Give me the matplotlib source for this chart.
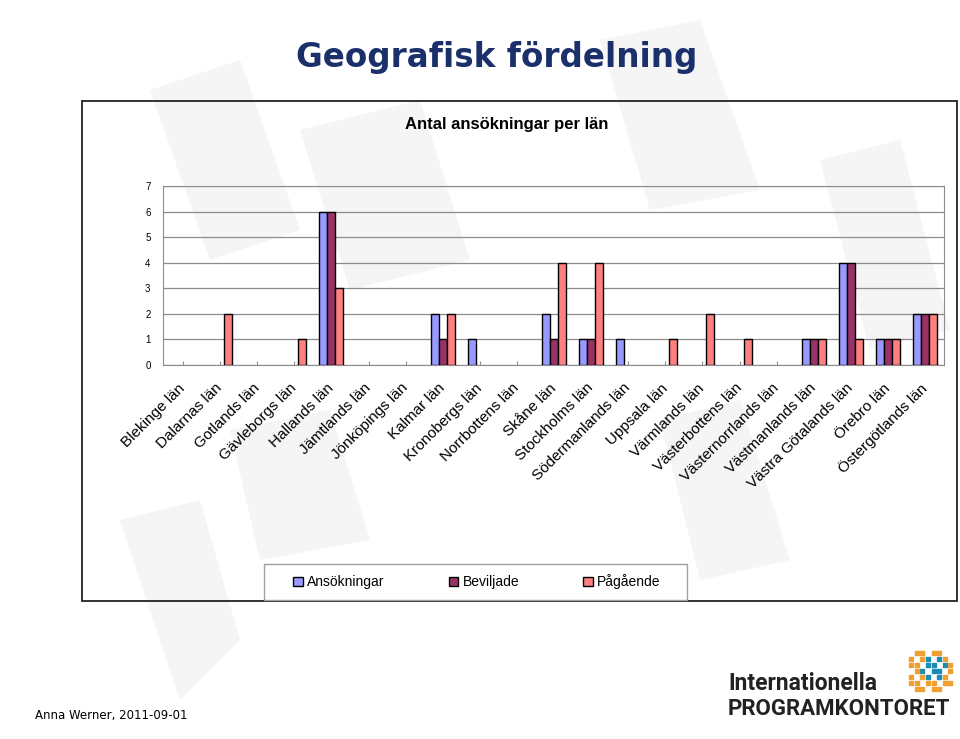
import numpy as np
import matplotlib
matplotlib.use("Agg")
import matplotlib.pyplot as plt
from matplotlib.patches import Rectangle, Polygon

# data
lan = ["Blekinge län", "Dalarnas län", "Gotlands län", "Gävleborgs län",
       "Hallands län", "Jämtlands län", "Jönköpings län", "Kalmar län",
       "Kronobergs län", "Norrbottens län", "Skåne län", "Stockholms län",
       "Södermanlands län", "Uppsala län", "Värmlands län",
       "Västerbottens län", "Västernorrlands län", "Västmanlands län",
       "Västra Götalands län", "Örebro län", "Östergötlands län"]
ansokningar = [0, 0, 0, 0, 6, 0, 0, 2, 1, 0, 2, 1, 1, 0, 0, 0, 0, 1, 4, 1, 2]
beviljade   = [0, 0, 0, 0, 6, 0, 0, 1, 0, 0, 1, 1, 0, 0, 0, 0, 0, 1, 4, 1, 2]
pagaende    = [0, 2, 0, 1, 3, 0, 0, 2, 0, 0, 4, 4, 0, 1, 2, 1, 0, 1, 1, 1, 2]
serier = ["Ansökningar", "Beviljade", "Pågående"]
farger = ["#9999FF", "#993366", "#FF8080"]

W, H = 960, 739
def fx(x):
    return x / W
def fy(y):
    return 1 - y / H

plt.rcParams["font.family"] = ["Liberation Sans", "DejaVu Sans"]

fig = plt.figure(figsize=(W / 100, H / 100), dpi=100)
fig.patch.set_facecolor("white")

# faint watermark shapes behind everything
wm = [[(150, 90), (240, 60), (300, 230), (210, 260)],
      [(300, 130), (420, 100), (470, 260), (350, 290)],
      [(600, 40), (700, 20), (760, 190), (650, 210)],
      [(820, 160), (900, 140), (950, 330), (870, 350)],
      [(230, 430), (330, 410), (370, 540), (260, 560)],
      [(660, 420), (740, 400), (790, 560), (700, 580)],
      [(120, 520), (200, 500), (240, 640), (180, 700)]]
for poly in wm:
    fig.patches.append(Polygon([(fx(a), fy(b)) for a, b in poly], closed=True,
                               transform=fig.transFigure, facecolor="#F5F5F5",
                               edgecolor="none", zorder=-10))

# chart frame
fig.patches.append(Rectangle((fx(82), fy(601)), (957 - 82) / W, (601 - 101) / H,
                             transform=fig.transFigure, fill=False,
                             edgecolor="#222222", lw=1.3, zorder=-5))

fig.text(fx(497), fy(57), "Geografisk fördelning", ha="center", va="center",
         fontsize=23.5, fontweight="bold", color="#1B2F6B", family="DejaVu Sans")
fig.text(fx(507), fy(125), "Antal ansökningar per län", ha="center", va="center",
         fontsize=12, fontweight="bold", color="black")

ax = fig.add_axes([fx(163), fy(365), (944 - 163) / W, (365 - 186) / H])
ax.set_facecolor("none")
x = np.arange(len(lan))
bw = 0.216
for i, (vals, c) in enumerate(zip([ansokningar, beviljade, pagaende], farger)):
    vals = np.array(vals)
    m = vals > 0
    ax.bar(x[m] + (i - 1) * bw, vals[m], width=bw, color=c, edgecolor="black",
           linewidth=1.0, label=serier[i], zorder=3)

ax.set_xlim(-0.54, 20.51)
ax.set_ylim(0, 7)
ax.set_yticks(range(8))
ax.tick_params(axis="y", length=0, labelsize=7, pad=9)
ax.yaxis.grid(True, color="#8C8C8C", lw=0.9, zorder=1)
for s in ax.spines.values():
    s.set_color("#8C8C8C")
ax.set_xticks(x)
ax.set_xticklabels(lan, rotation=45, ha="right", va="center",
                   rotation_mode="anchor", fontsize=11)
ax.tick_params(axis="x", direction="in", length=3, color="#8C8C8C", pad=15)

# legend box
fig.patches.append(Rectangle((fx(264), fy(600)), (687 - 264) / W, (600 - 564) / H,
                             transform=fig.transFigure, facecolor="white",
                             edgecolor="#A0A0A0", lw=1.0, zorder=-4))
fig.legend(loc="center", bbox_to_anchor=(fx(477), fy(582)), ncol=3,
           frameon=False, fontsize=10, handlelength=0.7, handleheight=0.7,
           handletextpad=0.3, columnspacing=4.6)

fig.text(fx(35), fy(716), "Anna Werner, 2011-09-01", ha="left", va="center",
         fontsize=8.5, family="DejaVu Sans", color="black")

# logo text
fig.text(fx(728), fy(684), "Internationella", ha="left", va="center",
         fontsize=16.5, fontweight="bold", family="Roboto", color="#222222")
fig.text(fx(728), fy(709), "PROGRAMKONTORET", ha="left", va="center",
         fontsize=16, fontweight="bold", family="Roboto", color="#222222")
# logo dots
lx = fig.add_axes([fx(900), fy(695), 56 / W, 48 / H])
lx.set_xlim(0, 10)
lx.set_ylim(0, 8)
lx.axis("off")
gx, gy = np.meshgrid(np.arange(1, 10), np.arange(1, 8))
r = np.hypot(gx - 5.5, gy - 4)
keep = (r < 4.3) & ((gx + gy) % 3 != 0)
teal = ((gx - 6) ** 2 + (gy - 4.5) ** 2 < 5) & (gx > 3)
lx.scatter(gx[keep & teal], gy[keep & teal], marker="s", s=7, color="#1B8DB5")
lx.scatter(gx[keep & ~teal], gy[keep & ~teal], marker="s", s=5, color="#F0A030")

fig.savefig("out.png", dpi=100)
